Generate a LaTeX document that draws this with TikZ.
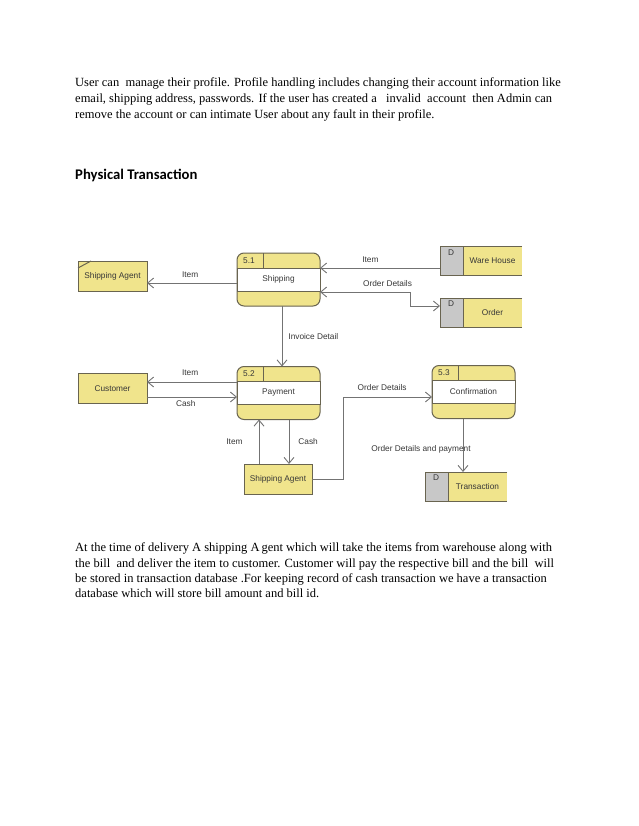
\documentclass[tikz,border=0pt]{standalone}
\usepackage{fontspec}
\setmainfont{Liberation Serif}
\newfontfamily\dfdfont{Liberation Sans}
\newfontfamily\headfont{Carlito}
\usetikzlibrary{calc,arrows.meta}
\definecolor{dfdyellow}{RGB}{240,228,140}
\definecolor{dfdborder}{RGB}{105,100,80}
\definecolor{dfdline}{RGB}{115,115,115}
\definecolor{dfdgrey}{RGB}{200,200,200}
\definecolor{dfdtext}{RGB}{55,55,55}

% process: name, position, id, label
\newcommand{\dfdprocess}[4]{%
  \node[procbox] (#1) at (#2) {};
  \filldraw[fill=white,draw=dfdborder,line width=1pt] ([yshift=-15pt]#1.north west) rectangle ([yshift=15pt]#1.south east);
  \draw[dfdborder,line width=1pt] ([xshift=26pt]#1.north west) -- ([xshift=26pt,yshift=-15pt]#1.north west);
  \node[lbl] (#1id) at ([xshift=12pt,yshift=-7.5pt]#1.north west) {#3};
  \node[lbl] (#1txt) at (#1) {#4};
}
% data store: name, position, label
\newcommand{\dfdstore}[3]{%
  \node[storebox] (#1) at (#2) {};
  \fill[dfdgrey] (#1.north west) rectangle ([xshift=23pt]#1.south west);
  \draw[dfdborder,line width=1pt] (#1.north east) -- (#1.north west) -- (#1.south west) -- (#1.south east);
  \draw[dfdborder,line width=1pt] ([xshift=23pt]#1.north west) -- ([xshift=23pt]#1.south west);
  \node[lbl] (#1d) at ([xshift=11pt,yshift=-6pt]#1.north west) {D};
  \node[lbl] (#1txt) at ([xshift=11.5pt]#1.center) {#3};
}

\begin{document}
\begin{tikzpicture}[x=1pt,y=-1pt,
  lbl/.style={inner sep=0pt,text=dfdtext,font=\dfdfont\fontsize{8.3}{9}\selectfont},
  procbox/.style={draw=dfdborder,fill=dfdyellow,line width=1pt,rounded corners=7pt,
    minimum width=83pt,minimum height=53pt,outer sep=0pt},
  storebox/.style={fill=dfdyellow,minimum width=82pt,minimum height=29pt,outer sep=0pt,inner sep=0pt},
  entity/.style={draw=dfdborder,fill=dfdyellow,line width=1pt,minimum width=69pt,
    minimum height=30pt,outer sep=0pt,text=dfdtext,font=\dfdfont\fontsize{8.3}{9}\selectfont},
  flow/.style={draw=dfdline,line width=0.9pt,-{Straight Barb[length=6pt,width=10pt]}},
  para/.style={anchor=base west,inner sep=0pt,font=\fontsize{12.5}{15}\selectfont}]

  \fill[white] (0,0) rectangle (638,826);
  \useasboundingbox (0,0) rectangle (638,826);

  % text above
  \node[para] (t1) at (75,87) {User can\ \ manage their profile. Profile handling includes changing their account information like};
  \node[para] (t2) at (75,103) {email, shipping address, passwords. If the user has created a\ \ \ invalid\ \ account\ \ then Admin can};
  \node[para] (t3) at (75,119) {remove the account or can intimate User about any fault in their profile.};
  \node[anchor=base west,inner sep=0pt,font=\headfont\bfseries\fontsize{14.7}{17}\selectfont] (head) at (75,180) {Physical Transaction};

  % processes
  \dfdprocess{p51}{278.5,279.5}{5.1}{Shipping}
  \dfdprocess{p52}{278.5,393}{5.2}{Payment}
  \dfdprocess{p53}{473.5,392}{5.3}{Confirmation}

  % data stores
  \dfdstore{wh}{481,261}{Ware House}
  \dfdstore{ord}{481,312.5}{Order}
  \dfdstore{trans}{466,486.5}{Transaction}

  % external entities
  \node[entity] (sa1) at (112.5,276) {Shipping Agent};
  \draw[dfdborder,line width=1pt] ([yshift=-7pt]sa1.north west) -- ([xshift=13pt]sa1.north west);
  \node[entity] (cust) at (112.5,388.5) {Customer};
  \node[entity,minimum width=68pt] (sa2) at (278,479) {Shipping Agent};

  % flows
  \draw[flow] ([yshift=-7pt]wh.west) -- node[lbl,above=5pt,pos=0.58] {Item} ([yshift=-7pt]wh.west -| p51.east);
  \draw[flow,{Straight Barb[length=6pt,width=10pt]}-{Straight Barb[length=6pt,width=10pt]}]
    ([yshift=-12.5pt]p51.east) -- node[lbl,above=5pt,pos=0.75] {Order Details} ++(90,0) |- ([yshift=6.5pt]ord.west);
  \draw[flow] ([yshift=-3.5pt]p51.west) -- node[lbl,above=5pt,pos=0.52] {Item} ([yshift=-3.5pt]p51.west -| sa1.east);
  \draw[flow] ([xshift=3.5pt]p51.south) -- node[lbl,right=6pt,pos=0.5] {Invoice Detail} ([xshift=3.5pt]p52.north);
  \draw[flow] ([yshift=11pt]p52.west) -- node[lbl,above=6pt,pos=0.52] {Item} ([yshift=11pt]p52.west -| cust.east);
  \draw[flow] ([yshift=-8.5pt]cust.east) -- node[lbl,below=3pt,pos=0.43] {Cash} ([yshift=-8.5pt]cust.east -| p52.west);
  \draw[flow] ([xshift=-19pt]sa2.north) -- node[lbl,left=16pt,pos=0.5] {Item} ([xshift=-19pt]sa2.north |- p52.south);
  \draw[flow] ([xshift=10.5pt]p52.south) -- node[lbl,right=9pt,pos=0.5] {Cash} ([xshift=10.5pt]p52.south |- sa2.north);
  \draw[flow] (sa2.east) -- ++(31,0) |- node[lbl,above=6pt,pos=0.72] {Order Details} ([yshift=-5pt]p53.west);
  \draw[flow] ([xshift=-10.5pt]p53.south) -- node[lbl,pos=0.57,xshift=-42pt] {Order Details and payment} ([xshift=-10.5pt]p53.south |- trans.north);

  % text below
  \node[para] (b1) at (75,551) {At the time of delivery A shipping A\hspace{2pt}gent which will take the items from warehouse along with};
  \node[para] (b2) at (75,567) {the bill\ \ and deliver the item to customer. Customer will pay the respective bill and the bill\ \ will};
  \node[para] (b3) at (75,582) {be stored in transaction database .For keeping record of cash transaction we have a transaction};
  \node[para] (b4) at (75,597) {database which will store bill amount and bill id.};

\end{tikzpicture}
\end{document}
